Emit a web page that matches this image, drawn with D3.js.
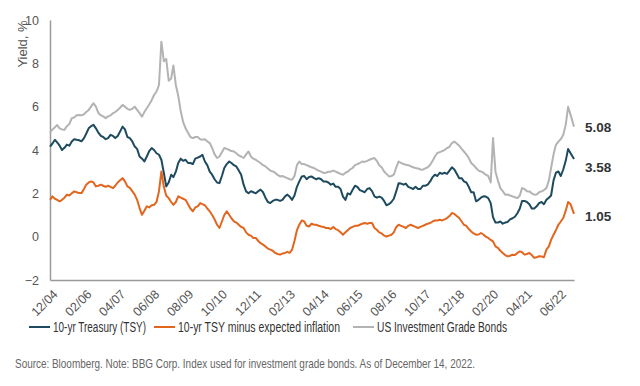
<!DOCTYPE html>
<html>
<head>
<meta charset="utf-8">
<script src="https://cdn.jsdelivr.net/npm/d3@7"></script>
<style>
  body { margin: 0; background: #fff; }
  svg { font-family: "Liberation Sans", Arial, sans-serif; }
</style>
</head>
<body>
<svg id="chart" width="640" height="386"></svg>
<script>
// monthly readings, Dec 2004 .. Dec 2022 (last point = Dec 14, 2022)
var startDate = "2004-12-01";
var endDate = "2022-12-14";

var tsy = [4.16,
  4.3, 4.47, 4.35, 4.2, 4.0, 4.1, 4.25, 4.2, 4.39, 4.5, 4.47, 4.45,
  4.4, 4.55, 4.75, 5.0, 5.1, 5.16, 5.0, 4.8, 4.65, 4.6, 4.5, 4.55,
  4.7, 4.65, 4.55, 4.65, 4.85, 5.08, 4.95, 4.6, 4.55, 4.4, 4.16, 4.05,
  3.7, 3.6, 3.47, 3.7, 3.95, 4.09, 4.0, 3.85, 3.78, 3.55, 2.95, 2.32,
  2.5, 2.86, 2.75, 3.0, 3.4, 3.6, 3.5, 3.55, 3.4, 3.4, 3.35, 3.6,
  3.65, 3.7, 3.78, 3.47, 3.3, 3.0, 2.86, 2.65, 2.5, 2.47, 2.8, 3.17,
  3.35, 3.47, 3.4, 3.3, 3.24, 3.05, 2.86, 2.4, 2.09, 2.0, 2.1, 2.05,
  2.0, 2.1, 2.17, 2.05, 1.8, 1.6, 1.55, 1.65, 1.7, 1.7, 1.65, 1.7,
  1.85, 1.94, 1.85, 1.7, 1.9, 2.3, 2.55, 2.78, 2.8, 2.65, 2.75, 2.78,
  2.7, 2.65, 2.7, 2.65, 2.55, 2.55, 2.5, 2.4, 2.45, 2.3, 2.3, 2.2,
  1.85, 1.7, 2.0, 1.95, 2.15, 2.35, 2.3, 2.15, 2.1, 2.05, 2.2, 2.24,
  2.1, 1.86, 1.8, 1.85, 1.8, 1.65, 1.45, 1.5, 1.6, 1.75, 2.1, 2.47,
  2.45, 2.4, 2.45, 2.3, 2.25, 2.2, 2.3, 2.2, 2.2, 2.35, 2.35, 2.4,
  2.55, 2.75, 2.86, 2.8, 2.95, 2.9, 2.95, 2.9, 3.05, 3.2, 3.1, 2.9,
  2.7, 2.7, 2.55, 2.5, 2.3, 2.05, 2.05, 1.63, 1.7, 1.8, 1.86, 1.85,
  1.78, 1.55, 0.9, 0.65, 0.65, 0.7, 0.6, 0.65, 0.68, 0.8, 0.85, 0.92,
  1.08, 1.3, 1.65, 1.65, 1.6, 1.5, 1.3, 1.3, 1.4, 1.55, 1.6, 1.5,
  1.7, 1.8, 1.9, 2.6, 2.95, 3.01, 2.8, 3.1, 3.5, 4.05, 3.85, 3.58];

var tsyReal = [1.7,
  1.86, 1.75, 1.7, 1.63, 1.7, 1.8, 1.94, 1.9, 2.0, 2.09, 2.05, 2.01,
  2.01, 2.2, 2.4, 2.5, 2.55, 2.5, 2.32, 2.35, 2.4, 2.35, 2.3, 2.35,
  2.3, 2.24, 2.35, 2.5, 2.6, 2.7, 2.55, 2.32, 2.25, 2.1, 1.94, 1.7,
  1.32, 1.01, 1.2, 1.4, 1.35, 1.45, 1.47, 1.6, 2.1, 3.01, 2.3, 1.9,
  1.78, 1.6, 1.47, 1.6, 1.86, 1.8, 1.75, 1.7, 1.5, 1.3, 1.17, 1.35,
  1.4, 1.55, 1.5, 1.45, 1.3, 1.17, 1.0, 0.8, 0.55, 0.4, 0.7, 1.0,
  1.17, 1.0, 0.85, 0.71, 0.65, 0.55, 0.45, 0.4, 0.2, 0.09, 0.05, -0.06,
  -0.06, -0.2, -0.3, -0.37, -0.45, -0.55, -0.6, -0.65, -0.75, -0.8, -0.83, -0.78,
  -0.75, -0.7, -0.75, -0.6, -0.2, 0.3, 0.55, 0.75, 0.7, 0.5, 0.47, 0.6,
  0.55, 0.55, 0.5, 0.47, 0.45, 0.4, 0.4, 0.35, 0.45, 0.35, 0.3, 0.2,
  0.09, 0.2, 0.3, 0.4, 0.45, 0.5, 0.5, 0.55, 0.6, 0.63, 0.6, 0.63,
  0.63, 0.4, 0.32, 0.2, 0.15, 0.05, 0.01, 0.05, 0.09, 0.2, 0.45, 0.55,
  0.5, 0.45, 0.4, 0.5, 0.55, 0.5, 0.45, 0.4, 0.45, 0.5, 0.55, 0.6,
  0.63, 0.7, 0.75, 0.75, 0.78, 0.75, 0.8, 0.86, 0.95, 1.09, 1.05, 0.95,
  0.86, 0.7, 0.55, 0.5, 0.35, 0.24, 0.15, 0.09, 0.1, 0.17, 0.1, 0.0,
  -0.06, -0.15, -0.22, -0.45, -0.52, -0.65, -0.75, -0.85, -0.91, -0.88, -0.83, -0.85,
  -0.75, -0.68, -0.72, -0.83, -0.8, -0.75, -0.85, -0.98, -0.95, -0.9, -0.91, -0.95,
  -0.6, -0.45, -0.15, 0.09, 0.3, 0.55, 0.7, 0.86, 1.2, 1.6, 1.5, 1.05];

var igBonds = [4.8,
  4.95, 5.05, 5.15, 5.0, 4.95, 4.93, 5.1, 5.2, 5.47, 5.5, 5.6, 5.62,
  5.6, 5.65, 5.75, 5.85, 6.0, 6.16, 6.0, 5.71, 5.6, 5.55, 5.47, 5.55,
  5.6, 5.7, 5.75, 5.85, 5.95, 6.08, 6.0, 5.9, 5.85, 5.9, 6.0, 5.85,
  5.7, 5.54, 5.75, 5.93, 6.1, 6.3, 6.54, 6.7, 7.0, 9.0, 8.1, 8.2,
  7.2, 7.3, 7.9, 7.0, 6.5, 5.8, 5.3, 5.0, 4.8, 4.6, 4.55, 4.6,
  4.6, 4.5, 4.47, 4.5, 4.4, 4.32, 4.1, 3.8, 3.63, 3.7, 3.9, 4.09,
  4.05, 4.0, 3.95, 3.93, 3.85, 3.75, 3.7, 3.63, 3.8, 3.93, 3.7, 3.6,
  3.55, 3.47, 3.4, 3.3, 3.24, 3.15, 3.05, 3.01, 2.95, 2.85, 2.78, 2.8,
  2.75, 2.7, 2.65, 2.63, 2.8, 3.3, 3.47, 3.35, 3.35, 3.3, 3.25, 3.2,
  3.17, 3.1, 3.05, 3.0, 2.94, 2.95, 3.0, 3.0, 3.05, 3.0, 2.95, 2.9,
  2.86, 2.95, 3.0, 3.1, 3.17, 3.3, 3.35, 3.4, 3.47, 3.45, 3.5, 3.55,
  3.6, 3.63, 3.5, 3.3, 3.2, 3.01, 2.9, 2.78, 2.8, 2.86, 3.2, 3.47,
  3.4, 3.35, 3.32, 3.3, 3.25, 3.2, 3.17, 3.15, 3.1, 3.09, 3.15, 3.2,
  3.32, 3.5, 3.7, 3.86, 3.9, 3.95, 4.0, 4.09, 4.15, 4.32, 4.39, 4.3,
  4.2, 4.05, 3.93, 3.8, 3.63, 3.4, 3.3, 3.17, 3.05, 3.01, 2.95, 2.86,
  2.8, 2.5, 4.55, 3.0, 2.6, 2.24, 2.1, 1.94, 1.95, 1.9, 1.86, 1.82,
  1.78, 1.9, 2.24, 2.2, 2.1, 2.09, 2.0, 1.94, 1.95, 2.05, 2.09, 2.15,
  2.24, 2.6, 3.17, 3.8, 4.24, 4.39, 4.5, 4.7, 5.16, 6.0, 5.62, 5.08];

var tickLabels = ["12/04", "02/06", "04/07", "06/08", "08/09", "10/10", "12/11", "02/13",
  "04/14", "06/15", "08/16", "10/17", "12/18", "02/20", "04/21", "06/22"];
var yTicks = [-2, 0, 2, 4, 6, 8, 10];

var seriesNames = ["10-yr Treasury (TSY)", "10-yr  TSY minus expected inflation", "US Investment Grade Bonds"];
var seriesColors = ["#1d4a5e", "#e2661e", "#b3b3b3"];
var endLabels = ["3.58", "1.05", "5.08"];

var sourceNote = "Source: Bloomberg. Note: BBG Corp. Index used for investment grade bonds. As of December 14, 2022.";

/////////////////////////////
// build chart
var svg = d3.select("#chart");
svg.append("rect").attr("width", 640).attr("height", 386).attr("fill", "#fff");

var parse = d3.utcParse("%Y-%m-%d");
var t0 = parse(startDate), t1 = parse(endDate);

var x = d3.scaleUtc().domain([t0, t1]).range([50, 574]);
var y = d3.scaleLinear().domain([-2, 10]).range([280, 20]);

function toPoints(vals) {
  return vals.map(function(v, i) {
    var d = (i === vals.length - 1) ? t1 : d3.utcMonth.offset(t0, i);
    return { date: d, value: v };
  });
}

var allSeries = [tsy, tsyReal, igBonds].map(function(vals, i) {
  return { name: seriesNames[i], color: seriesColors[i], points: toPoints(vals), label: endLabels[i] };
});

// y axis labels
var yAxis = d3.axisLeft(y).tickValues(yTicks).tickSize(0).tickPadding(11);
var gy = svg.append("g").attr("transform", "translate(50,0)").call(yAxis);
gy.select(".domain").attr("stroke", "#9a9a9a").attr("stroke-width", 1.5);
gy.selectAll("text").attr("fill", "#555").style("font-size", "12.5px");

svg.append("text")
  .text("Yield, %")
  .attr("transform", "translate(27,44) rotate(-90)")
  .attr("text-anchor", "middle")
  .attr("fill", "#555")
  .style("font-size", "13px");

// x axis
var tickDates = tickLabels.map(function(l, i) { return d3.utcMonth.offset(t0, 14 * i); });
var xAxis = d3.axisBottom(x).tickValues(tickDates).tickSize(0)
  .tickFormat(function(d, i) { return tickLabels[i]; });
var gx = svg.append("g").attr("transform", "translate(0,280)").call(xAxis);
gx.select(".domain").attr("stroke", "#9a9a9a").attr("stroke-width", 1.5);
gx.selectAll("text")
  .attr("fill", "#555")
  .style("font-size", "12.5px")
  .attr("text-anchor", "end")
  .attr("dy", 0)
  .attr("y", 0)
  .attr("transform", "translate(8,15) rotate(-45)");

// lines: draw grey first, then orange, then blue
var line = d3.line()
  .x(function(d) { return x(d.date); })
  .y(function(d) { return y(d.value); });

[2, 1, 0].forEach(function(i) {
  var s = allSeries[i];
  svg.append("path")
    .datum(s.points)
    .attr("fill", "none")
    .attr("stroke", s.color)
    .attr("stroke-width", 2)
    .attr("stroke-linejoin", "round")
    .attr("d", line);
});

// end value labels
var labelNudge = [8, 2, 1];
allSeries.forEach(function(s, i) {
  var last = s.points[s.points.length - 1];
  svg.append("text")
    .text(s.label)
    .attr("x", 585)
    .attr("y", y(last.value) + labelNudge[i])
    .attr("dy", "0.35em")
    .attr("fill", "#333")
    .style("font-size", "13.5px")
    .style("font-weight", "bold");
});

// legend
var legendX = [29, 154, 353];
var legendW = [93, 162, 130];
var legend = svg.append("g").attr("transform", "translate(0,327)");
allSeries.forEach(function(s, i) {
  legend.append("line")
    .attr("x1", legendX[i]).attr("x2", legendX[i] + 21)
    .attr("y1", 0).attr("y2", 0)
    .attr("stroke", s.color).attr("stroke-width", 2);
  legend.append("text")
    .text(s.name)
    .attr("x", legendX[i] + 24)
    .attr("y", 0)
    .attr("dy", "0.35em")
    .attr("fill", "#333")
    .attr("textLength", legendW[i])
    .attr("lengthAdjust", "spacingAndGlyphs")
    .style("font-size", "14px");
});

// source note
svg.append("text")
  .text(sourceNote)
  .attr("x", 15)
  .attr("y", 363)
  .attr("dy", "0.35em")
  .attr("fill", "#666")
  .attr("textLength", 460)
  .attr("lengthAdjust", "spacingAndGlyphs")
  .style("font-size", "13px");
</script>
</body>
</html>
